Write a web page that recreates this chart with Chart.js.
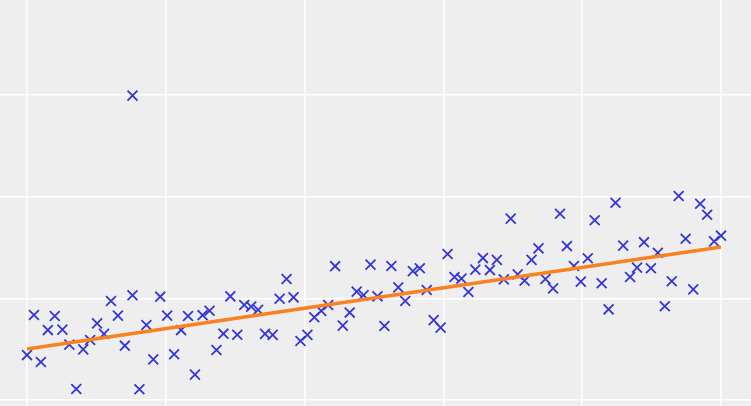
<!DOCTYPE html>
<html>
<head>
<meta charset="utf-8">
<script src="https://cdn.jsdelivr.net/npm/chart.js@4/dist/chart.umd.min.js"></script>
<style>
  html, body { margin: 0; padding: 0; background: #eeeeee; }
  canvas { display: block; background: #eeeeee; }
</style>
</head>
<body>
<canvas id="chart" width="751" height="406"></canvas>
<script>
// x positions of the samples (evenly spaced 0..10)
const xs = [
  0.00, 0.10, 0.20, 0.30, 0.40, 0.51, 0.61, 0.71, 0.81, 0.91,
  1.01, 1.11, 1.21, 1.31, 1.41, 1.52, 1.62, 1.72, 1.82, 1.92,
  2.02, 2.12, 2.22, 2.32, 2.42, 2.53, 2.63, 2.73, 2.83, 2.93,
  3.03, 3.13, 3.23, 3.33, 3.43, 3.54, 3.64, 3.74, 3.84, 3.94,
  4.04, 4.14, 4.24, 4.34, 4.44, 4.55, 4.65, 4.75, 4.85, 4.95,
  5.05, 5.15, 5.25, 5.35, 5.45, 5.56, 5.66, 5.76, 5.86, 5.96,
  6.06, 6.16, 6.26, 6.36, 6.46, 6.57, 6.67, 6.77, 6.87, 6.97,
  7.07, 7.17, 7.27, 7.37, 7.47, 7.58, 7.68, 7.78, 7.88, 7.98,
  8.08, 8.18, 8.28, 8.38, 8.48, 8.59, 8.69, 8.79, 8.89, 8.99,
  9.09, 9.19, 9.29, 9.39, 9.49, 9.60, 9.70, 9.80, 9.90, 10.00
];

const ys = [
  2.21, 4.18, 1.87, 3.44, 4.13, 3.46, 2.72, 0.54, 2.49, 2.95,
  3.77, 3.25, 4.87, 4.15, 2.67, 5.15, 0.53, 3.69, 2.00, 5.08,
  4.15, 2.25, 3.44, 4.13, 1.25, 4.17, 4.39, 2.46, 3.26, 5.10,
  3.21, 4.67, 4.59, 4.43, 3.25, 3.20, 4.98, 5.95, 5.05, 2.90,
  3.20, 4.07, 4.38, 4.67, 6.58, 3.66, 4.30, 5.33, 5.16, 6.66,
  5.10, 3.64, 6.59, 5.54, 4.87, 6.34, 6.48, 5.41, 3.93, 3.56,
  7.18, 6.05, 5.97, 5.31, 6.41, 6.98, 6.39, 6.89, 5.93, 8.92,
  6.18, 5.87, 6.89, 7.46, 5.95, 5.49, 9.16, 7.57, 6.59, 5.82,
  6.97, 8.84, 5.74, 4.46, 9.70, 7.59, 6.05, 6.51, 7.76, 6.48,
  7.24, 4.61, 5.84, 10.03, 7.93, 5.44, 9.65, 9.11, 7.80, 8.08
];

// the single outlier
const outlierX = [1.52];
const outlierY = [14.97];

// fitted line end points
const fitX = [0, 10];
const fitY = [2.51, 7.52];

// grid positions
const xTicks = [0, 2, 4, 6, 8, 10];
const yTicks = [0, 5, 10, 15];

const points = xs.map((x, i) => ({ x: x, y: ys[i] }));
outlierX.forEach((x, i) => points.push({ x: x, y: outlierY[i] }));
const fit = fitX.map((x, i) => ({ x: x, y: fitY[i] }));

const gridOpts = {
    color: "#ffffff",
    lineWidth: 1.5,
    drawTicks: false
};

new Chart(document.getElementById("chart"), {
    type: "scatter",
    data: {
        datasets: [
            {
                type: "line",
                label: "fit",
                data: fit,
                borderColor: "#f7821f",
                borderWidth: 3.5,
                pointRadius: 0,
                fill: false,
                borderCapStyle: "butt"
            },
            {
                label: "data",
                data: points,
                pointStyle: "crossRot",
                pointRadius: 7,
                pointBorderWidth: 1.8,
                borderColor: "#3535d8",
                backgroundColor: "#3535d8"
            }
        ]
    },
    options: {
        responsive: false,
        devicePixelRatio: 1,
        animation: false,
        layout: { padding: 0, autoPadding: false },
        plugins: {
            legend: { display: false },
            tooltip: { enabled: false }
        },
        scales: {
            x: {
                type: "linear",
                min: -0.389,
                max: 10.432,
                grid: gridOpts,
                border: { display: false },
                ticks: { display: false },
                afterBuildTicks: (s) => { s.ticks = xTicks.map(v => ({ value: v })); }
            },
            y: {
                type: "linear",
                min: -0.295,
                max: 19.67,
                grid: gridOpts,
                border: { display: false },
                ticks: { display: false },
                afterBuildTicks: (s) => { s.ticks = yTicks.map(v => ({ value: v })); }
            }
        }
    }
});
</script>
</body>
</html>
